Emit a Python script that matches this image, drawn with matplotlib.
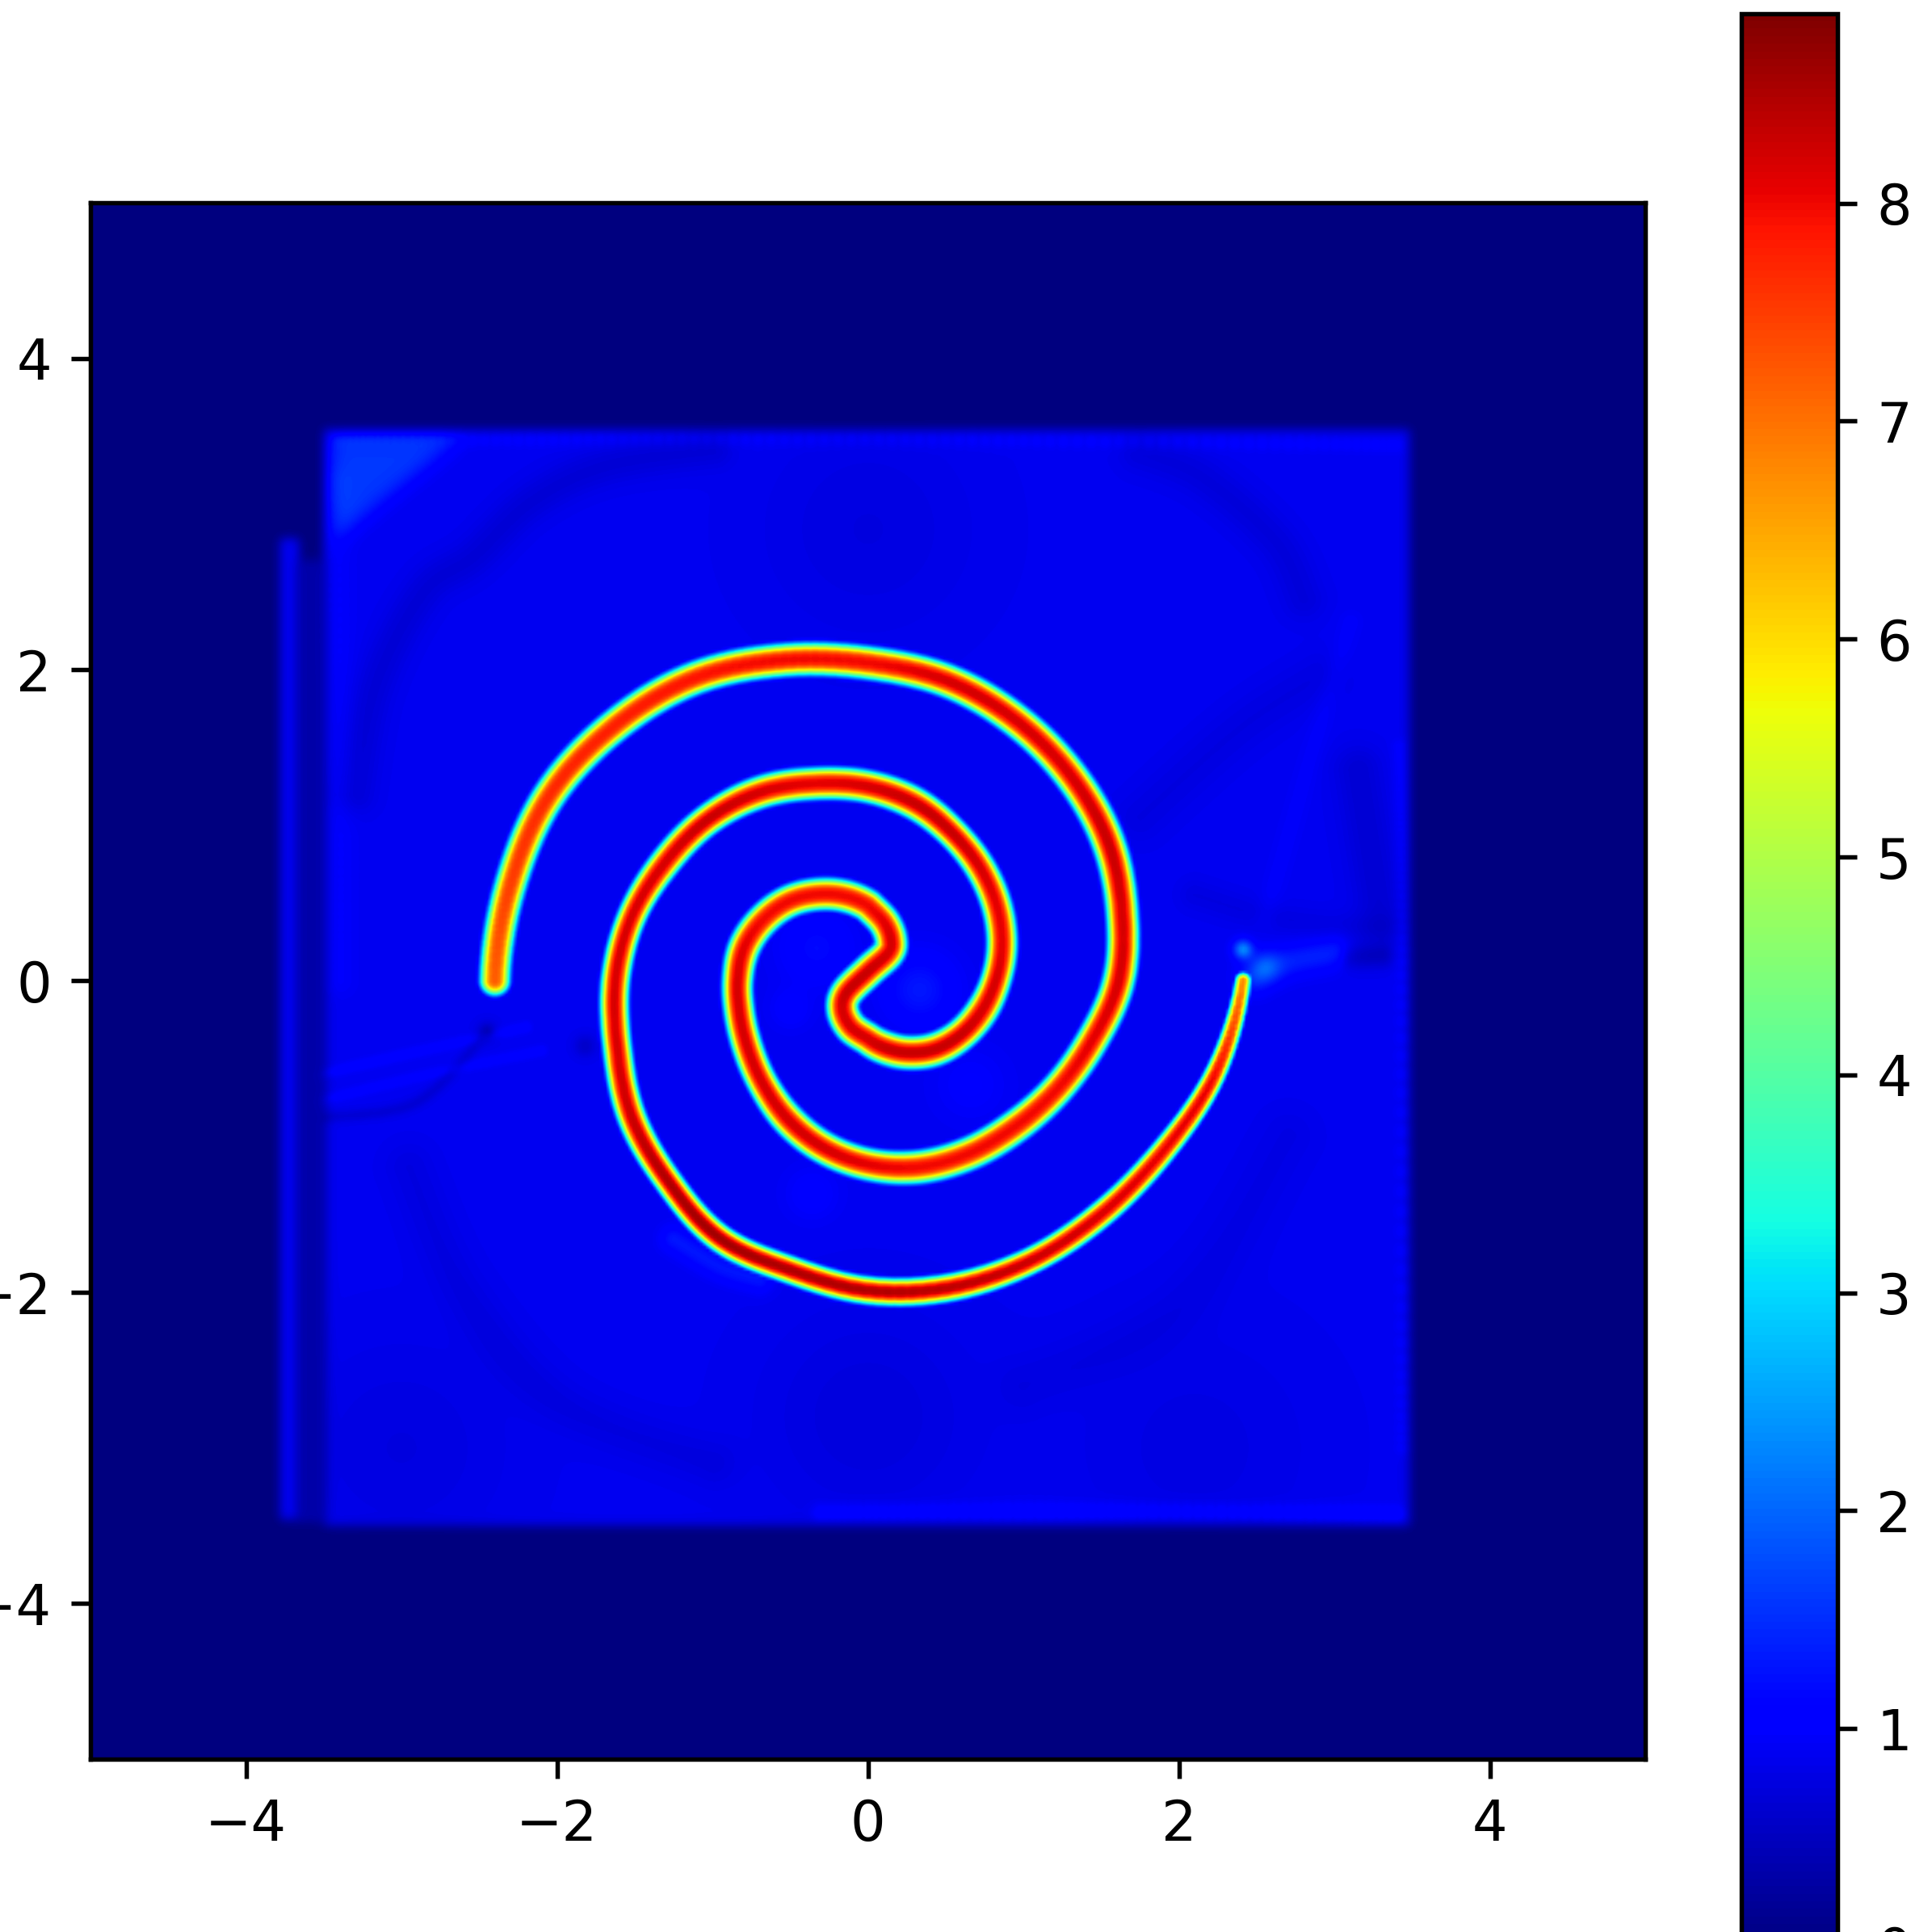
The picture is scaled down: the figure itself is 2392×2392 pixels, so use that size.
import numpy as np
import matplotlib
matplotlib.use("Agg")
import matplotlib.pyplot as plt
from matplotlib.path import Path

arm_a_angle = [180,165,150,135,120,105,90,75,60,45,30,15,0,-15,-30,-45,-60,-75,-90,-105,-120,-135,-150,-165,-180,-195,-210,-225,-240,-255,-270]
arm_a_radius = [2.40,2.38,2.37,2.31,2.24,2.13,2.04,1.99,1.92,1.85,1.78,1.69,1.61,1.49,1.40,1.33,1.285,1.24,1.18,1.11,1.03,0.95,0.89,0.855,0.84,0.825,0.78,0.72,0.64,0.56,0.48]
core_x = [0.00,0.10,0.145,0.13,0.00,-0.14,-0.165,-0.11,0.00]
core_y = [0.48,0.377,0.27,0.18,0.06,-0.08,-0.19,-0.30,-0.375]
arm_b_angle = [0,-15,-30,-45,-60,-75,-90,-105,-120,-135,-150,-165,-180,-195,-210,-225,-240,-255,-270,-285,-300,-315,-330,-345,-360,-375,-390,-405,-420,-435,-450]
arm_b_radius = [2.41,2.31,2.19,2.12,2.08,2.04,1.99,1.925,1.91,1.82,1.755,1.67,1.625,1.575,1.51,1.46,1.395,1.31,1.245,1.175,1.09,1.02,0.955,0.89,0.82,0.755,0.69,0.62,0.535,0.45,0.375]

arm_a_halfwidth = [0.095,0.098,0.10,0.10,0.10,0.10,0.10,0.10,0.10,0.10,0.10,0.097,0.097,0.097,0.097,0.10,0.10,0.10,0.097,0.097,0.097,0.092,0.092,0.092,0.092,0.097,0.097,0.097,0.097,0.097,0.097]
core_halfwidth = [0.097,0.097,0.097,0.097,0.097,0.097,0.097,0.097,0.097]
arm_b_halfwidth = [0.05,0.065,0.075,0.08,0.08,0.083,0.083,0.083,0.083,0.083,0.087,0.087,0.087,0.087,0.092,0.092,0.097,0.097,0.097,0.097,0.092,0.092,0.092,0.092,0.092,0.097,0.097,0.10,0.10,0.10,0.097]
arm_a_peak = [7.2,7.5,7.7,7.8,7.9,8.0,8.0,8.2,8.2,8.2,8.3,8.2,8.2,8.1,8.0,8.0,8.0,8.0,8.1,8.2,8.2,8.2,8.2,8.2,8.2,8.1,8.0,8.0,8.0,8.0,8.0]
core_peak = [8.0,8.1,8.2,8.2,8.3,8.3,8.2,8.2,8.2]
arm_b_peak = [6.8,8.0,8.1,8.2,8.3,8.4,8.5,8.5,8.6,8.5,8.3,8.2,8.2,8.2,8.2,8.3,8.2,8.1,8.2,8.3,8.3,8.2,8.1,8.1,8.2,8.2,8.3,8.3,8.3,8.3,8.2]

# faint plateau: x0, x1, y0, y1, value
plateau_x0 = [-3.49,-3.78]
plateau_x1 = [3.48,-3.67]
plateau_y0 = [-3.49,-3.46]
plateau_y1 = [3.53,2.84]
plateau_val = [0.88,0.92]
gap_x = [-3.67,-3.49]
gap_y = [-3.48,2.7]
gap_val = 0.34

# bright corner wedge, upper left
wedge_x = [-3.47,-2.60,-3.44]
wedge_y = [3.50,3.50,2.82]
wedge_add = 0.72

# faint streaks: points, width, amount added
streak_x = [
    [-3.30,-3.17,-2.86,-2.54,-2.17,-1.70,-1.0],
    [1.75,2.15,2.62,2.80],
    [1.75,2.39,2.90],
    [3.15,3.22,3.30],
    [3.10,2.85,2.55],
    [-3.60,-3.0,-2.2],
    [-3.55,-2.9,-2.1],
    [-3.5,-2.9,-2.45],
    [-2.95,-2.6,-2.0,-1.0],
    [1.0,2.0,2.7],
    [-3.42,-3.40,-3.40],
    [-0.3,1.5,3.4],
    [-3.4,-1.5,1.0,3.4],
    [3.42,3.44,3.44],
    [-1.25,-0.95,-0.7],
    [2.48,2.62,3.0],
    [3.1,3.3],
    [2.1,2.62,3.30],
]
streak_y = [
    [1.2,1.89,2.49,2.72,3.07,3.30,3.42],
    [3.4,3.23,2.82,2.45],
    [1.05,1.62,1.95],
    [1.35,0.90,0.40],
    [2.3,1.45,0.40],
    [-0.62,-0.48,-0.30],
    [-0.78,-0.62,-0.45],
    [-0.88,-0.78,-0.33],
    [-1.2,-2.0,-2.7,-3.1],
    [-2.6,-2.1,-1.0],
    [3.2,1.5,0.0],
    [-3.42,-3.41,-3.43],
    [3.47,3.48,3.47,3.44],
    [1.5,0.2,-3.0],
    [-1.66,-1.84,-1.92],
    [0.02,0.10,0.18],
    [0.15,0.16],
    [0.55,0.40,0.32],
]
streak_w = [0.13,0.14,0.16,0.16,0.07,0.035,0.035,0.04,0.16,0.18,0.10,0.06,0.05,0.05,0.08,0.10,0.08,0.10]
streak_add = [-0.20,-0.16,-0.12,-0.22,0.09,0.20,0.18,-0.22,-0.12,-0.09,0.10,0.28,0.15,0.15,0.42,0.50,-0.35,-0.12]

# soft blobs: x, y, radius, amount added
blob_x = [0.33,-0.33,-0.50,-0.36,0.66,0.0,-3.0,2.1,0.0,-2.45,-1.82,2.55,2.41]
blob_y = [-0.06,0.21,-0.18,-1.37,-0.67,2.9,-3.0,-3.0,-2.8,-0.33,-0.42,0.08,0.20]
blob_r = [0.22,0.22,0.12,0.16,0.22,0.7,0.7,0.8,0.7,0.07,0.07,0.10,0.06]
blob_add = [0.42,0.30,0.18,0.18,0.14,-0.12,-0.12,-0.10,-0.15,-0.3,-0.3,0.70,1.40]

x_ticks = [-4,-2,0,2,4]
y_ticks = [-4,-2,0,2,4]
vmin, vmax = 0.0, 8.87


def smooth(values, n=10):
    """Catmull-Rom through the read points."""
    p = np.asarray(values, float)
    p = np.r_[p[0], p, p[-1]]
    t = np.linspace(0, 1, n, endpoint=False)[:, None]
    a, b, c, d = p[:-3], p[1:-2], p[2:-1], p[3:]
    out = 0.5 * (2*b + (c-a)*t + (2*a-5*b+4*c-d)*t**2 + (3*b-a-3*c+d)*t**3)
    return np.r_[out.T.ravel(), p[-2]]


def blur(a, sigma_cells):
    r = int(4 * sigma_cells) + 1
    k = np.exp(-0.5 * (np.arange(-r, r+1) / sigma_cells)**2)
    k /= k.sum()
    a = np.apply_along_axis(lambda m: np.convolve(m, k, mode="same"), 0, a)
    return np.apply_along_axis(lambda m: np.convolve(m, k, mode="same"), 1, a)


N = 500
cell = 10.0 / N
gx = -5 + (np.arange(N) + 0.5) * cell
X, Y = np.meshgrid(gx, gx)

# background
Z = np.zeros_like(X)
for x0, x1, y0, y1, v in zip(plateau_x0, plateau_x1, plateau_y0, plateau_y1, plateau_val):
    Z[(X >= x0) & (X <= x1) & (Y >= y0) & (Y <= y1)] = v
Z[(X >= gap_x[0]) & (X <= gap_x[1]) & (Y >= gap_y[0]) & (Y <= gap_y[1])] = gap_val
Z = blur(Z, 1.6)
inside = blur(((X >= -3.49) & (X <= 3.48) & (Y >= -3.49) & (Y <= 3.53)).astype(float), 1.6)
tri = Path(np.c_[wedge_x, wedge_y]).contains_points(np.c_[X.ravel(), Y.ravel()]).reshape(X.shape)
Z = Z + wedge_add * blur(tri.astype(float), 3.0) * inside

mod = np.zeros_like(X)
for sx, sy, w, amp in zip(streak_x, streak_y, streak_w, streak_add):
    px, py = smooth(sx, 30), smooth(sy, 30)
    d2 = np.full(X.shape, np.inf)
    for a, b in zip(px, py):
        d2 = np.minimum(d2, (X-a)**2 + (Y-b)**2)
    mod += amp * np.exp(-d2 / w**2)
for a, b, r, amp in zip(blob_x, blob_y, blob_r, blob_add):
    mod += amp * np.exp(-((X-a)**2 + (Y-b)**2) / r**2)
Z = Z + mod * inside

# bright band
ra = smooth(arm_a_radius, 20); ta = np.radians(smooth(arm_a_angle, 20))
rb = smooth(arm_b_radius, 20); tb = np.radians(smooth(arm_b_angle, 20))
px = np.r_[ra*np.cos(ta), smooth(core_x, 20), (rb*np.cos(tb))[::-1]]
py = np.r_[ra*np.sin(ta), smooth(core_y, 20), (rb*np.sin(tb))[::-1]]
pw = np.r_[smooth(arm_a_halfwidth, 20), smooth(core_halfwidth, 20), smooth(arm_b_halfwidth, 20)[::-1]]
pv = np.r_[smooth(arm_a_peak, 20), smooth(core_peak, 20), smooth(arm_b_peak, 20)[::-1]]
band = np.zeros_like(X)
for a, b, w, v in zip(px, py, pw, pv):
    i0, i1 = np.searchsorted(gx, [a-0.5, a+0.5])
    j0, j1 = np.searchsorted(gx, [b-0.5, b+0.5])
    XX, YY = X[j0:j1, i0:i1], Y[j0:j1, i0:i1]
    f = np.exp(-(np.sqrt((XX-a)**2 + (YY-b)**2) / w)**3.0)
    band[j0:j1, i0:i1] = np.maximum(band[j0:j1, i0:i1], f * v)
Z = np.maximum(Z, band)
Z = np.clip(Z, vmin, vmax)

dpi = 494
fig = plt.figure(figsize=(2392.2/dpi, 2392.2/dpi), dpi=dpi, facecolor="white")
W = H = 2392.0
ax = fig.add_axes([112/W, (H-2178)/H, (2037-112)/W, (2178-251)/H])
im = ax.imshow(Z, origin="lower", extent=[-5, 5, -5, 5], cmap="jet",
               vmin=vmin, vmax=vmax, interpolation="bilinear", aspect="auto")
ax.set_xlim(-5, 5)
ax.set_ylim(-5, 5)
ax.set_xticks(x_ticks)
ax.set_yticks(y_ticks)

cax = fig.add_axes([2156/W, (H-2410)/H, (2275-2156)/W, (2410-17)/H])
fig.colorbar(im, cax=cax)

fig.savefig("out.png", dpi=dpi)
